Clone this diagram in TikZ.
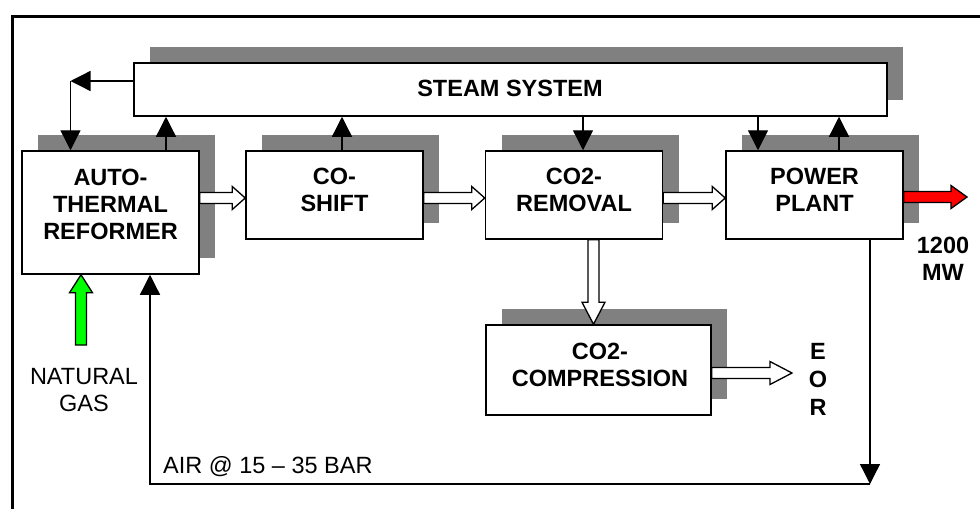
\documentclass[tikz,border=0pt]{standalone}
\usepackage{fontspec}
\setmainfont{Liberation Sans}
\usetikzlibrary{arrows.meta,calc,shadows}
\definecolor{shade}{HTML}{808080}
\definecolor{gas}{HTML}{00FF00}
\definecolor{pwr}{HTML}{FF0000}

\tikzset{
  unit/.style={draw,line width=1.5pt,fill=white,
    drop shadow={shadow xshift=16pt,shadow yshift=16pt,opacity=1,fill=shade}},
  lbl/.style={align=center,inner sep=0pt,font=\bfseries\fontsize{23.5}{27}\selectfont},
  txt/.style={align=center,inner sep=0pt,font=\fontsize{23.5}{27}\selectfont},
  arr/.style={line width=1.3pt,-{Triangle[length=20pt,width=20pt]}},
  fat/.style={draw,line width=1.3pt,fill=white,line join=miter,
    to path={-- ($(\tikztostart)!5.5pt!90:(\tikztotarget)$)
      -- ($(\tikztotarget)!#1!(\tikztostart)!5.5pt!90:(\tikztotarget)$)
      -- ($(\tikztotarget)!#1!(\tikztostart)!11.5pt!90:(\tikztotarget)$)
      -- (\tikztotarget)
      -- ($(\tikztotarget)!#1!(\tikztostart)!11.5pt!-90:(\tikztotarget)$)
      -- ($(\tikztotarget)!#1!(\tikztostart)!5.5pt!-90:(\tikztotarget)$)
      -- ($(\tikztostart)!5.5pt!-90:(\tikztotarget)$) -- cycle}},
  fat/.default=13pt
}

\begin{document}
\begin{tikzpicture}[x=1pt,y=-1pt]
\useasboundingbox (0,0) rectangle (980,509);
\draw[line width=3pt] (12,509) -- (12,16.5) -- (980,16.5);

% blocks
\node[unit,minimum width=753pt,minimum height=53pt] (steam) at (510.5,89.5) {};
\node[unit,minimum width=177pt,minimum height=123pt] (atr) at (110.5,212.5) {};
\node[unit,minimum width=177pt,minimum height=88pt] (shift) at (334.5,195) {};
\node[unit,minimum width=177pt,minimum height=88pt] (rem) at (574,195) {};
\node[unit,minimum width=177pt,minimum height=88pt] (pp) at (814.5,195) {};
\node[unit,minimum width=225pt,minimum height=90pt] (comp) at (598.5,370) {};

\node[lbl] at (510,88) {STEAM SYSTEM};
\node[lbl] at (110.5,204) {AUTO-\\THERMAL\\REFORMER};
\node[lbl] at (334.5,190) {CO-\\SHIFT};
\node[lbl] at (574,189.5) {CO2-\\REMOVAL};
\node[lbl] at (814.5,189.5) {POWER\\PLANT};
\node[lbl] at (600,364.5) {CO2-\\COMPRESSION};

% steam lines
\coordinate (ret) at (70.5,81);
\draw[arr] (steam.west |- ret) -- (ret);
\draw[arr] (ret) -- (atr.north -| ret);
\draw[arr] ([xshift=55.5pt]atr.north) -- ([xshift=55.5pt]atr.north |- steam.south);
\draw[arr] ([xshift=7.5pt]shift.north) -- ([xshift=7.5pt]shift.north |- steam.south);
\draw[arr] ([xshift=9pt]rem.north |- steam.south) -- ([xshift=9pt]rem.north);
\draw[arr] ([xshift=-56.5pt]pp.north |- steam.south) -- ([xshift=-56.5pt]pp.north);
\draw[arr] ([xshift=24.5pt]pp.north) -- ([xshift=24.5pt]pp.north |- steam.south);

% gas train
\coordinate (row) at (0,198);
\coordinate (mw) at (967,197);
\coordinate (eor) at (792,373);
\coordinate (ng) at (81,345);
\draw[fat] (atr.east |- row) to (shift.west |- row);
\draw[fat] (shift.east |- row) to (rem.west |- row);
\draw[fat] (rem.east |- row) to (pp.west |- row);
\draw[fat=16pt,fill=pwr] (pp.east |- mw) to (mw);
\draw[fat=22pt] ([xshift=19.5pt]rem.south) to ([xshift=19.5pt]rem.south |- comp.north);
\draw[fat=22pt] (comp.east |- eor) to (eor);
\draw[fat=18pt,fill=gas] (ng) to (atr.south -| ng);

% air
\coordinate (airR) at (870,484);
\coordinate (airL) at (150,484);
\draw[arr] ([xshift=55.5pt]pp.south) -- (airR);
\draw[arr] (airR) -- (airL) -- (atr.south -| airL);

\node[txt] at (84,390) {NATURAL\\GAS};
\node[txt,anchor=west] at (163,467) {AIR @ 15 -- 35 BAR};
\node[lbl] at (943,259) {1200\\MW};
\node[lbl,font=\bfseries\fontsize{23.5}{28}\selectfont] at (818,379) {E\\O\\R};
\end{tikzpicture}
\end{document}
